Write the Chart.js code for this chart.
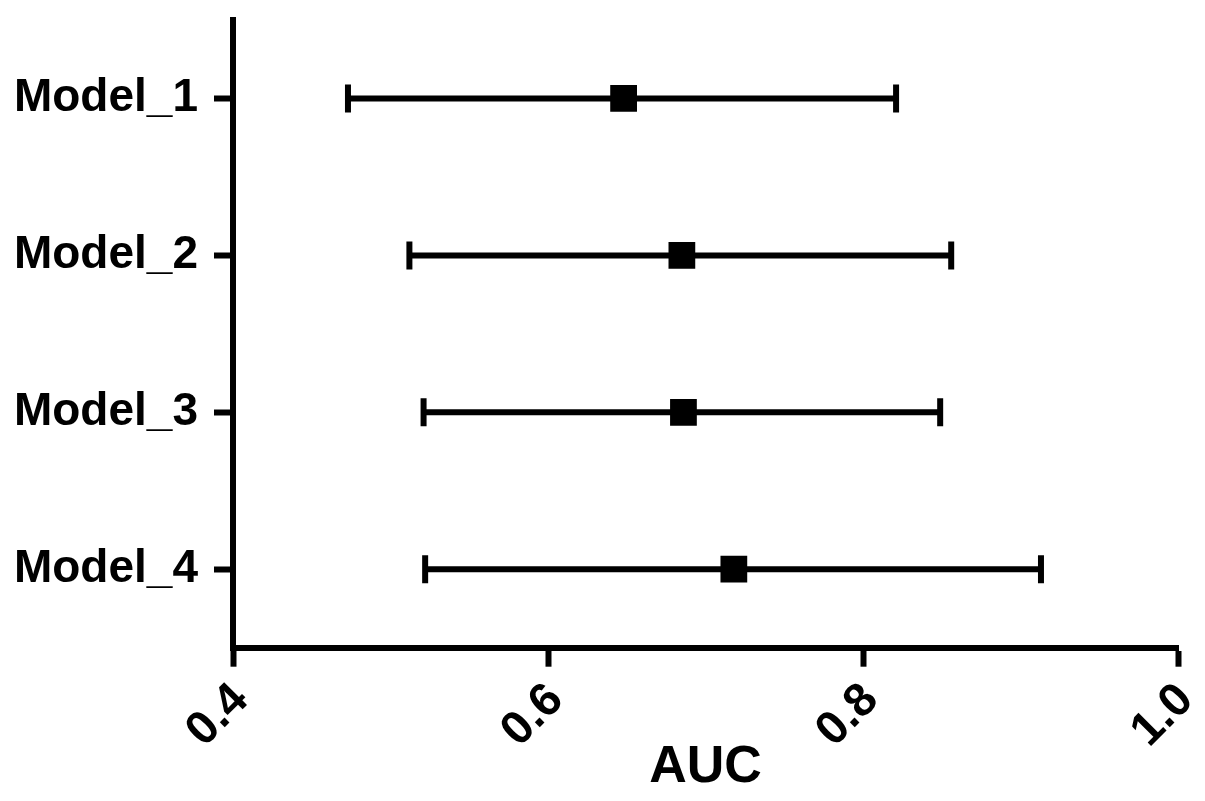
<!DOCTYPE html>
<html>
<head>
<meta charset="utf-8">
<title>AUC</title>
<script src="https://cdn.jsdelivr.net/npm/chart.js@4/dist/chart.umd.min.js"></script>
<style>
  html, body { margin: 0; padding: 0; background: #fff; }
  canvas { display: block; }
</style>
</head>
<body>
<canvas id="chart" width="1205" height="801"></canvas>
<script>
  'use strict';
  // models, top to bottom
  const modelLabels = ['Model_1', 'Model_2', 'Model_3', 'Model_4'];
  // AUC estimates
  const aucValues = [0.648, 0.685, 0.686, 0.718];
  // confidence interval ends
  const lowerValues = [0.473, 0.512, 0.521, 0.522];
  const upperValues = [0.821, 0.856, 0.849, 0.913];
  // x axis ticks
  const xTickValues = [0.4, 0.6, 0.8, 1.0];
  const xTickLabels = ['0.4', '0.6', '0.8', '1.0'];
  const xTitle = 'AUC';

  const fontFamily = "'Liberation Sans', Arial, sans-serif";
  const lineWidth = 6;

  // one dataset per error bar (line + end caps)
  const ciDatasets = modelLabels.map(function(model, i) {
    return {
      data: [{x: lowerValues[i], y: model}, {x: upperValues[i], y: model}],
      showLine: true,
      borderColor: '#000',
      borderWidth: lineWidth,
      pointStyle: 'line',
      pointRotation: 90,
      pointRadius: 14,
      pointHoverRadius: 14,
      pointBorderWidth: lineWidth,
      pointBorderColor: '#000',
      order: 1,
    };
  });

  // square markers
  const aucDataset = {
    data: modelLabels.map(function(model, i) {
      return {x: aucValues[i], y: model};
    }),
    showLine: false,
    pointStyle: 'rect',
    pointRadius: 17.5,
    pointHoverRadius: 17.5,
    pointBorderWidth: 2,
    pointBackgroundColor: '#000',
    pointBorderColor: '#000',
    order: 0,
  };

  const chartContext = document.getElementById('chart').getContext('2d');
  new Chart(chartContext, {
    type: 'scatter',
    data: {
      datasets: ciDatasets.concat([aucDataset]),
    },
    options: {
      responsive: false,
      animation: false,
      layout: {
        padding: {top: 15, right: 27, left: 0, bottom: 0},
      },
      plugins: {
        legend: {display: false},
        tooltip: {enabled: false},
      },
      scales: {
        x: {
          type: 'linear',
          min: 0.4,
          max: 1.0,
          afterBuildTicks: function(scale) {
            scale.ticks = xTickValues.map(function(v) {
              return {value: v};
            });
          },
          afterFit: function(scale) {
            scale.height = 153.3;
            scale.paddingLeft = 0;
            scale.paddingRight = 0;
          },
          border: {color: '#000', width: lineWidth},
          grid: {
            drawOnChartArea: false,
            color: '#000',
            tickColor: '#000',
            tickLength: 19,
            tickWidth: lineWidth,
          },
          ticks: {
            minRotation: 45,
            maxRotation: 45,
            padding: 6,
            labelOffset: 8,
            color: '#000',
            font: {family: fontFamily, size: 47, weight: 'bold'},
            callback: function(value, index) {
              return xTickLabels[index];
            },
          },
          title: {
            display: true,
            text: xTitle,
            color: '#000',
            font: {family: fontFamily, size: 52, weight: 'bold'},
            padding: {top: 0, bottom: 2},
          },
        },
        y: {
          type: 'category',
          labels: modelLabels,
          offset: true,
          afterFit: function(scale) {
            scale.width = 233;
            scale.paddingTop = 0;
            scale.paddingBottom = 0;
          },
          border: {color: '#000', width: lineWidth},
          grid: {
            drawOnChartArea: false,
            offset: false,
            color: '#000',
            tickColor: '#000',
            tickLength: 19,
            tickWidth: lineWidth,
          },
          ticks: {
            padding: 16,
            color: '#000',
            font: {family: fontFamily, size: 46, weight: 'bold'},
          },
        },
      },
    },
  });
</script>
</body>
</html>
